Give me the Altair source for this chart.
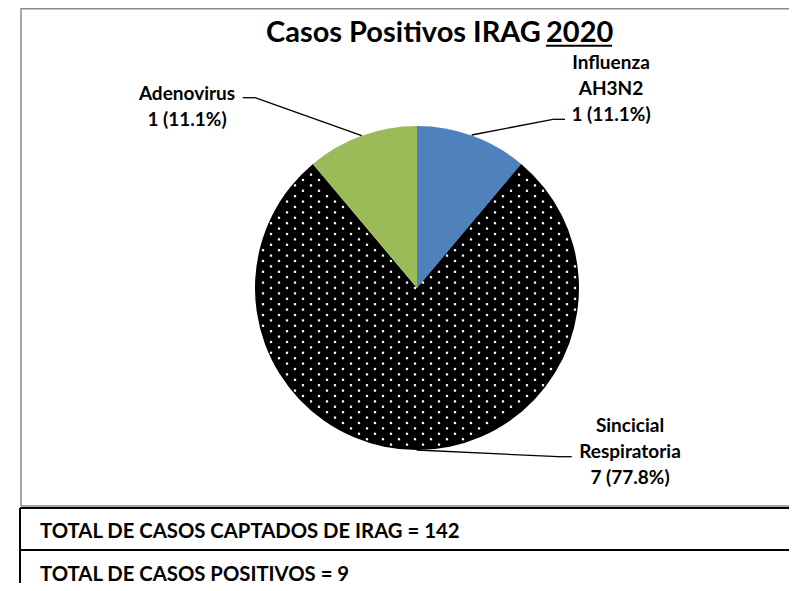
import altair as alt
import pandas as pd

# ---- data ----
categories = ["Influenza AH3N2", "Sincicial Respiratoria", "Adenovirus"]
counts = [1, 7, 1]
slice_order = [0, 1, 2]
slice_colors = ["#4F81BD", "#000000", "#9BBB59"]
title_main = "Casos Positivos IRAG"
title_year = "2020"
total_captados = 142
footer_lines = [
    f"TOTAL DE CASOS CAPTADOS DE IRAG = {total_captados}",
    f"TOTAL DE CASOS POSITIVOS = {sum(counts)}",
]

# ---- layout (chart coordinates = page - 8) ----
W, H = 781, 575
OFF = 8
CX, CY, R = 417 - OFF, 288 - OFF, 162
FONT = "Lato"
LABEL_SIZE = 19
LINE_H = 26
label_pos = {
    "Influenza AH3N2": (611 - OFF, 69 - OFF),
    "Sincicial Respiratoria": (630 - OFF, 432 - OFF),
    "Adenovirus": (187 - OFF, 100 - OFF),
}
leaders = [
    [(471.7, 135), (553, 119.3), (565, 119.3)],
    [(242.7, 97.7), (255, 97.7), (361.7, 135.7)],
    [(416.7, 450), (558, 456.7), (571.7, 456.7)],
]

df = pd.DataFrame({"cat": categories, "n": counts, "ord": slice_order})
one = alt.Data(values=[{"k": 0}])

def seg(x1, y1, x2, y2, color="black", width=1.5):
    return alt.Chart(one).mark_rule(color=color, strokeWidth=width).encode(
        x=alt.value(x1), y=alt.value(y1), x2=alt.value(x2), y2=alt.value(y2)
    )

# pie
pie = alt.Chart(df).mark_arc(outerRadius=R).encode(
    theta=alt.Theta("n:Q", stack=True),
    color=alt.Color("cat:N", scale=alt.Scale(domain=categories, range=slice_colors), legend=None),
    order=alt.Order("ord:Q"),
    x=alt.value(CX),
    y=alt.value(CY),
)

# dotted texture for the black slice
DXS, DYS = 16.0, 5.4
ncols = int(2 * R / DXS) + 3
nrows = int(2 * R / DYS) + 3
dots = (
    alt.Chart(alt.sequence(0, ncols * nrows, as_="i"))
    .transform_calculate(row=f"floor(datum.i / {ncols})", col=f"datum.i % {ncols}")
    .transform_calculate(
        dx=f"-{R} + datum.col * {DXS} + (datum.row % 2) * {DXS / 2}",
        dy=f"-{R} + datum.row * {DYS}",
    )
    .transform_calculate(
        dist="sqrt(datum.dx * datum.dx + datum.dy * datum.dy)",
        ang="atan2(datum.dx, -datum.dy) * 180 / PI",
    )
    .transform_filter(f"datum.dist < {R - 2} && abs(datum.ang) > 41.5")
    .transform_calculate(px=f"{CX} + datum.dx", py=f"{CY} + datum.dy")
    .mark_square(size=5, color="white", opacity=1)
    .encode(
        x=alt.X("px:Q", scale=alt.Scale(domain=[0, W], range=[0, W]), axis=None),
        y=alt.Y("py:Q", scale=alt.Scale(domain=[0, H], range=[0, H]), axis=None),
    )
)

# labels
label_layers = []
for cat in categories:
    lx, ly = label_pos[cat]
    label_layers.append(
        alt.Chart(df)
        .transform_joinaggregate(total="sum(n)")
        .transform_filter(alt.datum.cat == cat)
        .transform_calculate(
            txt="replace(datum.cat, ' ', '\\n') + '\\n' + datum.n + ' (' + format(datum.n / datum.total * 100, '.1f') + '%)'"
        )
        .mark_text(font=FONT, fontWeight="bold", fontSize=LABEL_SIZE, align="center",
                   baseline="alphabetic", lineBreak="\n", lineHeight=LINE_H, color="black")
        .encode(text="txt:N", x=alt.value(lx), y=alt.value(ly))
    )

leader_layers = []
for pts in leaders:
    for (x1, y1), (x2, y2) in zip(pts[:-1], pts[1:]):
        leader_layers.append(seg(x1 - OFF, y1 - OFF, x2 - OFF, y2 - OFF, width=1.3))

# title
TITLE_SIZE = 29
TITLE_BASE = 41.7 - OFF
title_left = alt.Chart(one).mark_text(
    font=FONT, fontWeight="bold", fontSize=TITLE_SIZE, align="left", baseline="alphabetic"
).encode(text=alt.value(title_main), x=alt.value(266 - OFF), y=alt.value(TITLE_BASE))
YEAR_LEFT = 546 - OFF
YEAR_W = 66
title_year_t = alt.Chart(one).mark_text(
    font=FONT, fontWeight="bold", fontSize=TITLE_SIZE, align="left", baseline="alphabetic"
).encode(text=alt.value(title_year), x=alt.value(YEAR_LEFT), y=alt.value(TITLE_BASE))
underline = seg(YEAR_LEFT, TITLE_BASE + 4, YEAR_LEFT + YEAR_W, TITLE_BASE + 4, width=2)

# frame and footer boxes
GRAY = "#8a8a8a"
frame = [
    seg(21 - OFF, 0.75, W, 0.75, color=GRAY, width=1.5),
    seg(21 - OFF, 0, 21 - OFF, 506 - OFF, color=GRAY, width=1.5),
    seg(21 - OFF, 506 - OFF, W, 506 - OFF, color=GRAY, width=1.5),
    seg(20 - OFF, 508 - OFF, W, 508 - OFF, color="black", width=2),
    seg(20 - OFF, 550 - OFF, W, 550 - OFF, color="black", width=2),
    seg(20 - OFF, 508 - OFF, 20 - OFF, H, color="black", width=2),
]
footer = []
for txt, by in zip(footer_lines, [538.3, 580.5]):
    footer.append(
        alt.Chart(one).mark_text(
            font=FONT, fontWeight="bold", fontSize=20.3, align="left", baseline="alphabetic", color="black"
        ).encode(text=alt.value(txt), x=alt.value(40 - OFF), y=alt.value(by - OFF))
    )

chart = alt.layer(
    *frame, pie, dots, *leader_layers, *label_layers, title_left, title_year_t, underline, *footer
).properties(
    width=W, height=H, padding=0, autosize=alt.AutoSizeParams(type="none"), background="white"
).configure_view(stroke=None)

chart.save("out.html", embed_options={"renderer": "svg", "actions": False})
